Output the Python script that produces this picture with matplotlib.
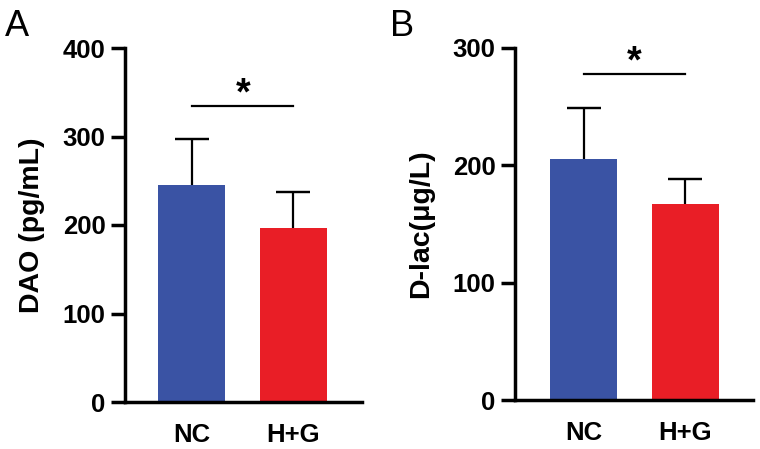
import matplotlib
matplotlib.use("Agg")
import matplotlib.pyplot as plt

plt.rcParams['font.family'] = ['Liberation Sans', 'DejaVu Sans']

groups = ["NC", "H+G"]
dao_mean = [245, 197]
dao_sd = [52, 40]
dlac_mean = [205, 167]
dlac_sd = [44, 21]
colors = ["#3A53A4", "#E91E26"]

W, H = 760, 449
fig = plt.figure(figsize=(W / 100, H / 100), dpi=100)


def px_axes(l, r, t, b):
    return fig.add_axes([l / W, 1 - b / H, (r - l) / W, (b - t) / H])


def panel(ax, means, sds, ymax, ystep, xlim, sig_y, star_y, ylabel, label_x, letter, letter_x):
    x = list(range(len(groups)))
    ax.bar(x, means, width=0.66, color=colors, edgecolor='none', zorder=2)
    tops = [m + s for m, s in zip(means, sds)]
    ax.vlines(x, means, tops, color='black', lw=1.6, zorder=1)
    ax.errorbar(x, tops, yerr=0, fmt='none', ecolor='black',
                elinewidth=0, capsize=12, capthick=1.6, zorder=1, clip_on=False)
    ax.set_xlim(*xlim)
    ax.set_ylim(0, ymax)
    ax.set_yticks(range(0, ymax + 1, ystep))
    ax.set_xticks(x)
    ax.set_xticklabels(groups)
    for s in ['top', 'right']:
        ax.spines[s].set_visible(False)
    for s in ['left', 'bottom']:
        ax.spines[s].set_linewidth(2.5)
    ax.tick_params(axis='y', length=10, width=2.5, pad=4, labelsize=18.5)
    ax.tick_params(axis='x', length=0, pad=15, labelsize=18.5)
    for t in ax.get_yticklabels() + ax.get_xticklabels():
        t.set_fontweight('bold')
    ax.plot([0, 1], [sig_y, sig_y], color='black', lw=1.6, clip_on=False)
    ax.text(0.5, star_y, '*', ha='center', va='baseline', fontsize=27, fontweight='bold', clip_on=False)
    bb = ax.get_position()
    fig.text(label_x / W, (bb.y0 + bb.y1) / 2, ylabel, rotation=90, ha='center', va='center',
             fontsize=20.5, fontweight='bold')
    fig.text(letter_x / W, 1 - 36 / H, letter, ha='left', va='baseline', fontsize=26)


axA = px_axes(125, 362, 48, 402)
panel(axA, dao_mean, dao_sd, 400, 100, (-0.66, 1.675), 334, 336, 'DAO (pg/mL)', 32, 'A', 5)

axB = px_axes(515, 753, 47.7, 400)
panel(axB, dlac_mean, dlac_sd, 300, 100, (-0.676, 1.666), 278, 279, 'D-lac(μg/L)', 421, 'B', 390)

fig.savefig('out.png', dpi=100)
